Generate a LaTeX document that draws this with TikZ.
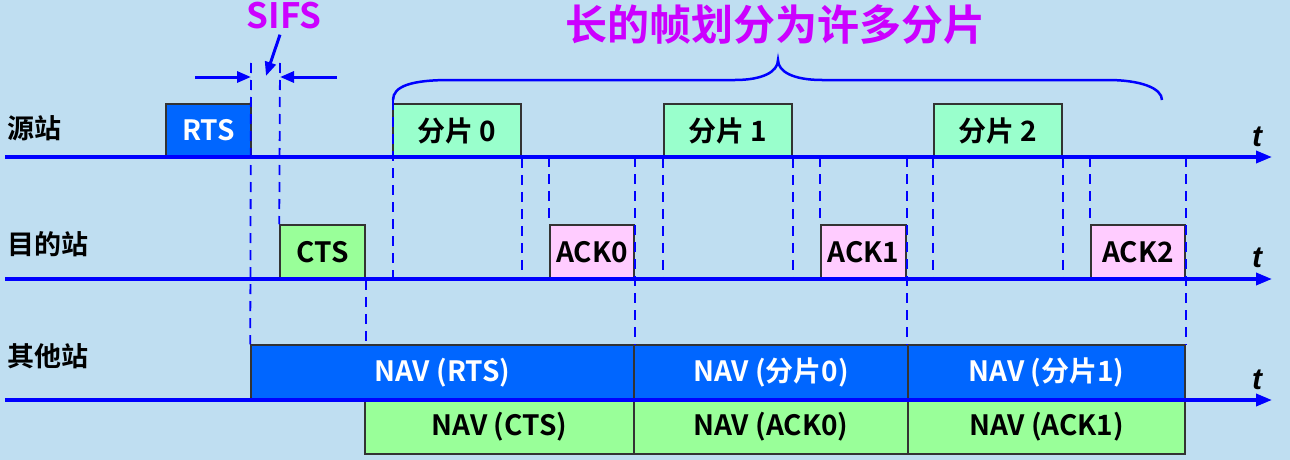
\documentclass[tikz,border=0pt]{standalone}
\usepackage{fontspec}
\setmainfont{Noto Sans CJK SC}[BoldFont={Noto Sans CJK SC Bold}]
\newfontfamily\tfont{Liberation Sans}
\usetikzlibrary{arrows.meta}
\definecolor{bgblue}{RGB}{191,222,241}
\definecolor{lineblue}{RGB}{0,0,255}
\definecolor{navblue}{RGB}{0,102,255}
\definecolor{fraggreen}{RGB}{153,255,204}
\definecolor{ctsgreen}{RGB}{153,255,153}
\definecolor{ackpink}{RGB}{255,204,255}
\definecolor{titlemag}{RGB}{204,0,255}
\tikzset{
  pkt/.style={draw=black!80, line width=1.5pt, inner sep=0pt, minimum height=53pt, font=\fontsize{28}{30}\selectfont\bfseries},
  navtop/.style={pkt, fill=navblue, text=white, minimum height=55pt},
  navbot/.style={pkt, fill=ctsgreen, minimum height=54pt},
  stalabel/.style={anchor=west, font=\fontsize{27}{29}\selectfont\bfseries},
  tlabel/.style={font=\fontsize{30}{32}\selectfont\tfont\bfseries\itshape},
  axis/.style={-{Triangle[length=16pt, width=12pt]}, draw=lineblue, line width=3.5pt},
  guide/.style={draw=lineblue, line width=1.8pt, dash pattern=on 10pt off 7pt},
  sifsarrow/.style={-{Triangle[length=14pt, width=11pt]}, draw=lineblue, line width=3pt}
}

\begin{document}
\begin{tikzpicture}[x=1pt, y=-1pt]
  \fill[bgblue] (0,0) rectangle (1290,460);
  \useasboundingbox (0,0) rectangle (1290,460);

  \node[font=\fontsize{42}{44}\selectfont\bfseries, text=titlemag] (title) at (775,25) {长的帧划分为许多分片};
  \node[font=\fontsize{35}{37}\selectfont\bfseries, text=titlemag, anchor=base, inner sep=1pt] (sifs) at (284,29) {SIFS};

  \node[stalabel] (src) at (4,128) {源站};
  \node[stalabel] (dst) at (4,244) {目的站};
  \node[stalabel] (oth) at (4,356) {其他站};

  \node[pkt, fill=navblue, text=white, minimum width=85pt] (rts) at (208.5,130.5) {RTS};
  \node[pkt, fill=fraggreen, minimum width=128pt] (frag0) at (457,130.5) {分片 0};
  \node[pkt, fill=fraggreen, minimum width=128pt] (frag1) at (728,130.5) {分片 1};
  \node[pkt, fill=fraggreen, minimum width=128pt] (frag2) at (998,130.5) {分片 2};

  \node[pkt, fill=ctsgreen, minimum width=85pt, minimum height=54pt] (cts) at (322.5,252) {CTS};
  \node[pkt, fill=ackpink, minimum width=84pt, minimum height=54pt] (ack0) at (592,252) {ACK0};
  \node[pkt, fill=ackpink, minimum width=85pt, minimum height=54pt] (ack1) at (863.5,252) {ACK1};
  \node[pkt, fill=ackpink, minimum width=94pt, minimum height=54pt] (ack2) at (1138,252) {ACK2};

  \node[navtop, minimum width=383pt] (navrts) at (442.5,372.5) {NAV (RTS)};
  \node[navtop, minimum width=274pt] (navf0) at (771,372.5) {NAV (分片0)};
  \node[navtop, minimum width=277pt] (navf1) at (1046.5,372.5) {NAV (分片1)};
  \node[navbot, minimum width=269pt] (navcts) at (499.5,427) {NAV (CTS)};
  \node[navbot, minimum width=274pt] (navack0) at (771,427) {NAV (ACK0)};
  \node[navbot, minimum width=277pt] (navack1) at (1046.5,427) {NAV (ACK1)};

  \coordinate (srcl) at (5,157);
  \coordinate (srcr) at (1272,157);
  \coordinate (dstl) at (5,279);
  \coordinate (dstr) at (1272,279);
  \coordinate (othl) at (5,400);
  \coordinate (othr) at (1272,400);
  \draw[axis] (srcl) -- (srcr);
  \draw[axis] (dstl) -- (dstr);
  \draw[axis] (othl) -- (othr);
  \node[tlabel] (t1) at (1257,137) {t};
  \node[tlabel] (t2) at (1257,258) {t};
  \node[tlabel] (t3) at (1257,380) {t};

  \coordinate (ga) at (251,63);
  \coordinate (gb) at (280,63);
  \coordinate (brl) at (393,100);
  \coordinate (brr) at (1162,100);
  \draw[guide] (ga) -- (navrts.north west);
  \draw[guide] (gb) -- (cts.north west);
  \draw[guide] (cts.south east) -- (cts.south east |- navrts.north);
  \draw[guide] (brl) -- (brl |- dstr);
  \foreach \f/\a in {frag0/ack0, frag1/ack1, frag2/ack2} {
    \draw[guide] (\f.south east) -- (\f.south east |- dstr);
    \draw[guide] (\a.north west |- srcr) -- (\a.north west);
    \draw[guide] (\a.north east |- srcr) -- (\a.north east |- navrts.north);
  }
  \draw[guide] (frag1.south west) -- (frag1.south west |- dstr);
  \draw[guide] (frag2.south west) -- (frag2.south west |- dstr);

  \coordinate (sifsl) at (195,77);
  \coordinate (sifsa) at (251,77);
  \coordinate (sifsr) at (337,77);
  \coordinate (sifsb) at (280,77);
  \coordinate (sifsp) at (266,76);
  \draw[sifsarrow] (sifs.south) ++(-4,4) -- (sifsp);
  \draw[sifsarrow] (sifsl) -- (sifsa);
  \draw[sifsarrow] (sifsr) -- (sifsb);

  \draw[draw=lineblue, line width=2.5pt] (brl) .. controls (393,86) and (412,80) .. (450,80)
    -- (735,80) .. controls (762,80) and (778,72) .. (778,60)
    .. controls (778,72) and (794,80) .. (822,80)
    -- (1108,80) .. controls (1140,80) and (1162,88) .. (brr);
\end{tikzpicture}
\end{document}
